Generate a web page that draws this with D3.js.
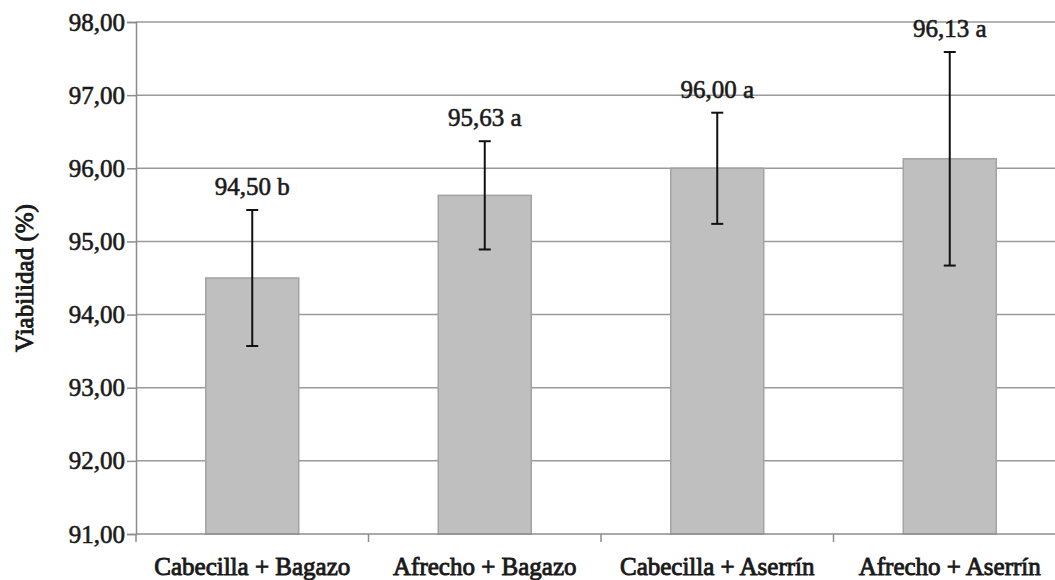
<!DOCTYPE html>
<html>
<head>
<meta charset="utf-8">
<script src="https://cdn.jsdelivr.net/npm/d3@7"></script>
</head>
<body style="margin:0">
<script>
// Datos: viabilidad (%) por sustrato
var categorias = ["Cabecilla + Bagazo", "Afrecho + Bagazo", "Cabecilla + Aserrín", "Afrecho + Aserrín"];
var valores = [94.50, 95.63, 96.00, 96.13];
var errores = [0.93, 0.74, 0.76, 1.46];
var letras = ["b", "a", "a", "a"];
var yTicks = [91, 92, 93, 94, 95, 96, 97, 98];

var width = 1055, height = 580;
var margin = { top: 22, left: 136, bottom: 46 };
var plotRight = 1066;

var svg = d3.select("body").append("svg")
    .attr("width", width)
    .attr("height", height);

var x = d3.scaleBand().domain(categorias).range([margin.left, plotRight]).paddingInner(0.6).paddingOuter(0.3);
var xTick = d3.scaleLinear().domain([0, categorias.length]).range([margin.left, plotRight]);
var y = d3.scaleLinear().domain([91, 98]).range([height - margin.bottom, margin.top]);

var fmt = function (v) { return d3.format(".2f")(v).replace(".", ","); };

// texto con aspecto semi negrita
function estilo(sel, grosor) {
    sel.style("font-family", "'Liberation Serif', monospace")
        .style("font-size", "25px")
        .attr("fill", "#1a1a1a")
        .attr("stroke", "#1a1a1a")
        .attr("stroke-width", grosor);
}

// Lineas de cuadricula
svg.append("g").selectAll("line")
    .data(yTicks.slice(1))
    .enter().append("line")
    .attr("x1", margin.left).attr("x2", width)
    .attr("y1", function (d) { return y(d); })
    .attr("y2", function (d) { return y(d); })
    .attr("stroke", "#9a9a9a")
    .attr("stroke-width", 1.5);

// Barras
svg.append("g").selectAll("rect")
    .data(valores)
    .enter().append("rect")
    .attr("x", function (d, i) { return x(categorias[i]); })
    .attr("width", x.bandwidth())
    .attr("y", function (d) { return y(d); })
    .attr("height", function (d) { return y(91) - y(d); })
    .attr("fill", "#bfbfbf")
    .attr("stroke", "#a3a3a3")
    .attr("stroke-width", 1.5);

// Eje y (lineas con d3.axisLeft, textos propios)
var gy = svg.append("g")
    .attr("transform", "translate(" + margin.left + ",0)")
    .call(d3.axisLeft(y).tickValues(yTicks).tickSize(9).tickFormat(""));
gy.attr("font-family", null).attr("font-size", null);
gy.select(".domain").attr("stroke", "#8c8c8c").attr("stroke-width", 1.5);
gy.selectAll(".tick line").attr("stroke", "#8c8c8c").attr("stroke-width", 1.5);
gy.selectAll(".tick text").remove();

svg.append("g").selectAll("text")
    .data(yTicks)
    .enter().append("text")
    .attr("x", margin.left - 11)
    .attr("y", function (d) { return y(d); })
    .attr("dy", "0.34em")
    .attr("text-anchor", "end")
    .call(estilo, 0.6)
    .text(fmt);

// Eje x
var gx = svg.append("g");
gx.append("line")
    .attr("x1", margin.left).attr("x2", width)
    .attr("y1", y(91)).attr("y2", y(91))
    .attr("stroke", "#8c8c8c").attr("stroke-width", 1.5);
gx.selectAll("line.xt")
    .data(d3.range(categorias.length + 1))
    .enter().append("line")
    .attr("class", "xt")
    .attr("x1", function (d) { return xTick(d); })
    .attr("x2", function (d) { return xTick(d); })
    .attr("y1", y(91)).attr("y2", y(91) + 8)
    .attr("stroke", "#8c8c8c").attr("stroke-width", 1.5);

svg.append("g").selectAll("text")
    .data(categorias)
    .enter().append("text")
    .attr("x", function (d) { return x(d) + x.bandwidth() / 2; })
    .attr("y", 575)
    .attr("text-anchor", "middle")
    .call(estilo, 0.9)
    .text(function (d) { return d; });

// Barras de error
var err = svg.append("g").attr("stroke", "#111").attr("stroke-width", 2);
valores.forEach(function (v, i) {
    var cx = x(categorias[i]) + x.bandwidth() / 2;
    err.append("line").attr("x1", cx).attr("x2", cx)
        .attr("y1", y(v + errores[i])).attr("y2", y(v - errores[i]));
    err.append("line").attr("x1", cx - 6).attr("x2", cx + 6)
        .attr("y1", y(v + errores[i])).attr("y2", y(v + errores[i]));
    err.append("line").attr("x1", cx - 6).attr("x2", cx + 6)
        .attr("y1", y(v - errores[i])).attr("y2", y(v - errores[i]));
});

// Etiquetas de valor
svg.append("g").selectAll("text")
    .data(valores)
    .enter().append("text")
    .attr("x", function (d, i) { return x(categorias[i]) + x.bandwidth() / 2; })
    .attr("y", function (d, i) { return y(d + errores[i]) - 15; })
    .attr("text-anchor", "middle")
    .call(estilo, 0.6)
    .text(function (d, i) { return fmt(d) + " " + letras[i]; });

// Titulo eje y
svg.append("text")
    .attr("transform", "translate(33," + (margin.top + y(91)) / 2 + ") rotate(-90)")
    .attr("text-anchor", "middle")
    .call(estilo, 0.9)
    .text("Viabilidad (%)");
</script>
</body>
</html>
